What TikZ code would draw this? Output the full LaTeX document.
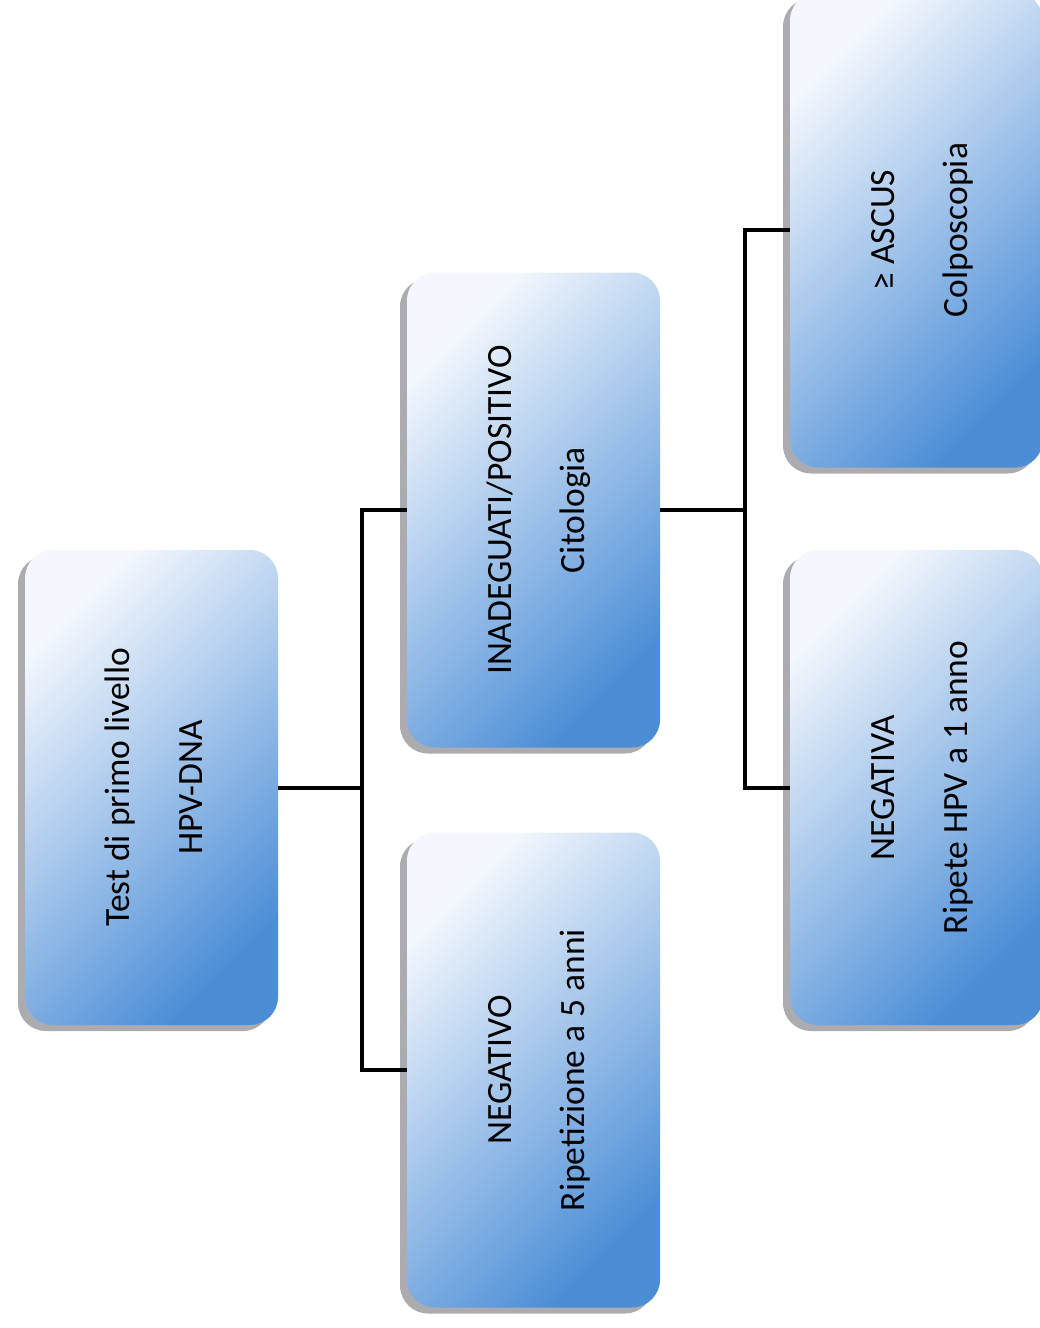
\documentclass[tikz,border=0pt]{standalone}
\usepackage{fontspec}
\setmainfont{Carlito}
\usepackage{graphicx}
\usetikzlibrary{shadows}
\definecolor{boxblue}{RGB}{76,142,214}
\definecolor{boxlight}{RGB}{244,247,253}
\definecolor{boxedge}{RGB}{172,172,176}
\newcommand{\vtext}[2]{\rotatebox{90}{\fontsize{35.5}{73}\selectfont\begin{tabular}{@{}c@{}}#1\\#2\end{tabular}}}
\tikzset{
  flowbox/.style={rounded corners=28pt,minimum width=253pt,minimum height=475pt,inner sep=0pt,
    top color=boxlight,bottom color=boxblue,shading angle=45,
    drop shadow={shadow xshift=-7pt,shadow yshift=-6pt,fill=boxedge,opacity=1}},
  link/.style={line width=4pt,black}
}
\begin{document}
\begin{tikzpicture}[x=1pt,y=-1pt]
\useasboundingbox (0,0) rectangle (1039,1328);
% first level
\node[flowbox] (test) at (151.5,787.5) {\vtext{Test di primo livello}{HPV-DNA}};
% second level
\node[flowbox] (cito) at (533.5,510) {\vtext{INADEGUATI/POSITIVO}{Citologia}};
\node[flowbox] (neg) at (533.5,1070) {\vtext{NEGATIVO}{Ripetizione a 5 anni}};
% third level
\node[flowbox] (ascus) at (916.5,230) {\vtext{≥ ASCUS}{Colposcopia}};
\node[flowbox] (nega) at (916.5,787.5) {\vtext{NEGATIVA}{Ripete HPV a 1 anno}};
% connectors
\coordinate (fork1) at (362,787.5);
\coordinate (fork2) at (745,510);
\draw[link] (test.east) -- (fork1);
\draw[link] (cito.west) -| (fork1) |- (neg.west);
\draw[link] (cito.east) -- (fork2);
\draw[link] (ascus.west) -| (fork2) |- (nega.west);
\end{tikzpicture}
\end{document}
